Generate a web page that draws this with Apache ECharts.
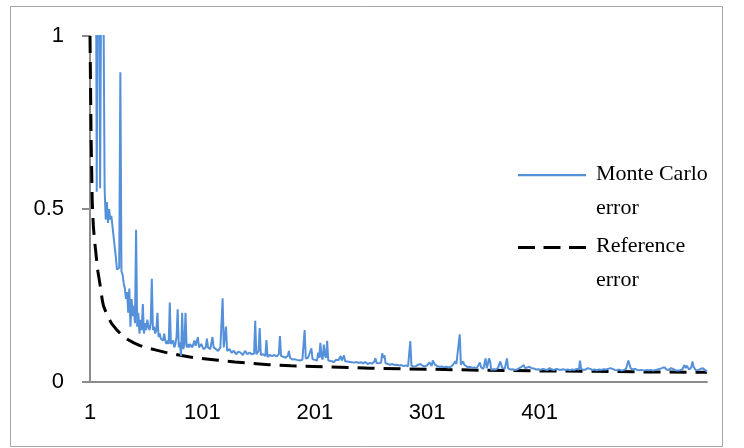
<!DOCTYPE html>
<html>
<head>
<meta charset="utf-8">
<script src="https://cdn.jsdelivr.net/npm/echarts@6/dist/echarts.min.js"></script>
<style>
html,body{margin:0;padding:0;background:#fff;}
#chart{width:744px;height:448px;}
</style>
</head>
<body>
<div id="chart"></div>
<script>
// Sample index (x) tick labels
const xTickLabels = [1, 101, 201, 301, 401];
const seriesNames = ['Monte Carlo error', 'Reference error'];
const legendLabels = ['Monte Carlo\nerror', 'Reference\nerror'];

// Monte Carlo error: [sample index, error]
const monteCarloError = [
[1,1.6],[2,2.1],[3,1.5],[4,1.9],[5,1.3],[6,1.6],[7,0.55],[8,1.4],[9,1.25],[10,0.56],[11,1.2],[12,1.5],[13,1.1],[14,0.56],[15,0.47],[16,0.52],[17,0.46],[18,0.5],[19,0.47],[20,0.48],
[21,0.45],[22,0.42],[23,0.39],[24,0.36],[25,0.325],[26,0.32],[27,0.33],[28,0.895],[29,0.32],[30,0.31],[31,0.285],[32,0.27],[33,0.24],[34,0.26],[35,0.2],[36,0.27],[37,0.16],[38,0.24],[39,0.19],[40,0.22],
[41,0.17],[42,0.44],[43,0.16],[44,0.2],[45,0.14],[46,0.18],[47,0.15],[48,0.225],[49,0.14],[50,0.17],[51,0.15],[52,0.18],[53,0.16],[54,0.15],[55,0.17],[56,0.298],[57,0.15],[58,0.16],[59,0.14],[60,0.15],
[61,0.2],[62,0.13],[63,0.14],[64,0.125],[65,0.13],[66,0.12],[67,0.14],[68,0.12],[69,0.11],[70,0.12],[71,0.11],[72,0.23],[73,0.11],[74,0.105],[75,0.12],[76,0.1],[77,0.11],[78,0.13],[79,0.21],[80,0.1],
[81,0.115],[82,0.075],[83,0.2],[84,0.095],[85,0.11],[86,0.2],[87,0.1],[88,0.11],[89,0.1],[90,0.11],[92,0.1],[94,0.12],[95,0.105],[97,0.13],[98,0.1],[100,0.11],[102,0.095],[104,0.1],[105,0.125],[106,0.1],
[108,0.095],[110,0.13],[111,0.1],[113,0.095],[115,0.09],[117,0.1],[119,0.242],[120,0.1],[122,0.16],[123,0.09],[125,0.095],[127,0.085],[129,0.09],[131,0.08],[133,0.088],[135,0.085],[137,0.078],[139,0.09],[141,0.08],[143,0.085],
[145,0.08],[147,0.082],[148,0.177],[149,0.08],[151,0.09],[152,0.156],[153,0.078],[155,0.08],[157,0.075],[158,0.121],[159,0.072],[161,0.078],[163,0.075],[165,0.078],[167,0.074],[169,0.08],[170,0.133],[171,0.075],[173,0.073],[175,0.07],
[177,0.076],[178,0.09],[179,0.07],[181,0.065],[183,0.066],[185,0.064],[186,0.068],[188,0.062],[190,0.065],[191,0.068],[192,0.15],[193,0.068],[195,0.07],[196,0.065],[198,0.097],[199,0.066],[201,0.064],[203,0.062],[204,0.085],[205,0.07],
[206,0.113],[207,0.073],[208,0.065],[209,0.108],[210,0.078],[211,0.07],[212,0.119],[213,0.062],[214,0.058],[216,0.06],[218,0.058],[220,0.064],[222,0.063],[224,0.075],[225,0.062],[227,0.077],[228,0.06],[230,0.059],[232,0.058],[234,0.057],
[236,0.056],[238,0.058],[240,0.055],[242,0.057],[244,0.054],[246,0.058],[248,0.052],[250,0.055],[252,0.053],[254,0.059],[255,0.069],[256,0.055],[258,0.054],[260,0.056],[261,0.083],[262,0.07],[263,0.078],[264,0.054],[266,0.052],[268,0.05],
[270,0.052],[272,0.049],[274,0.05],[276,0.048],[278,0.049],[280,0.046],[282,0.048],[284,0.045],[286,0.118],[287,0.048],[289,0.044],[291,0.046],[293,0.05],[295,0.052],[297,0.047],[299,0.045],[301,0.048],[303,0.057],[305,0.046],[306,0.062],
[307,0.058],[308,0.05],[310,0.046],[312,0.044],[314,0.045],[316,0.043],[318,0.044],[320,0.042],[322,0.044],[324,0.05],[326,0.06],[327,0.052],[328,0.048],[330,0.138],[331,0.05],[332,0.046],[333,0.06],[334,0.05],[335,0.045],[337,0.043],
[339,0.044],[341,0.041],[343,0.042],[345,0.04],[346,0.036],[348,0.056],[349,0.042],[351,0.038],[353,0.068],[354,0.04],[355,0.052],[356,0.068],[357,0.06],[358,0.035],[360,0.037],[362,0.036],[364,0.04],[366,0.059],[368,0.04],[370,0.038],
[372,0.068],[373,0.04],[375,0.036],[377,0.037],[379,0.035],[381,0.036],[383,0.04],[385,0.044],[387,0.049],[388,0.04],[390,0.042],[392,0.044],[394,0.04],[396,0.039],[398,0.036],[400,0.037],[402,0.035],[404,0.038],[406,0.036],[408,0.035],
[410,0.04],[412,0.036],[414,0.035],[416,0.038],[418,0.036],[420,0.035],[422,0.037],[424,0.035],[426,0.036],[428,0.034],[430,0.036],[432,0.035],[434,0.038],[436,0.036],[437,0.062],[438,0.038],[440,0.035],[442,0.036],[444,0.04],[446,0.038],
[448,0.035],[450,0.036],[452,0.034],[454,0.036],[456,0.035],[458,0.037],[460,0.036],[462,0.038],[464,0.04],[466,0.038],[468,0.035],[470,0.034],[472,0.036],[474,0.033],[476,0.035],[478,0.038],[480,0.062],[482,0.04],[484,0.036],[486,0.038],
[488,0.035],[490,0.034],[492,0.035],[494,0.033],[496,0.035],[498,0.034],[500,0.035],[502,0.033],[504,0.035],[506,0.036],[508,0.038],[510,0.04],[512,0.043],[514,0.036],[516,0.035],[518,0.04],[520,0.037],[522,0.034],[524,0.033],[526,0.034],
[528,0.036],[530,0.049],[531,0.04],[532,0.047],[534,0.036],[536,0.042],[537,0.059],[538,0.045],[540,0.034],[542,0.035],[544,0.037],[546,0.04],[547,0.044],[548,0.035],[549,0.037],[550,0.03]
];

// Reference error: [sample index, error]
const referenceError = [
[1,1.0],[2,0.7],[3,0.52],[4,0.45],[5,0.41],[6,0.38],[7,0.35],[8,0.32],[10,0.28],[12,0.235],[13,0.22],[16,0.195],[20,0.17],[25,0.15],[30,0.133],[35,0.122],[40,0.113],[45,0.106],[50,0.1],[60,0.092],
[70,0.084],[80,0.078],[90,0.072],[100,0.068],[115,0.063],[130,0.058],[160,0.05],[180,0.047],[200,0.045],[250,0.04],[300,0.037],[350,0.034],[400,0.032],[450,0.031],[500,0.029],[550,0.028]
];

const chart = echarts.init(document.getElementById('chart'), null, {renderer: 'canvas'});
const axisColor = '#8c8c8c';
const blue = '#5590DA';
// legend glyphs: line drawn along the top of a 68x34 box so it sits level with the first text line
const solidIcon = 'path://M0,0H68V2.2H0Z M34,34L34.01,34L34.01,33.99Z';
const dashIcon = 'path://M0,0H17V3H0Z M25.5,0H42.5V3H25.5Z M51,0H68V3H51Z M34,34L34.01,34L34.01,33.99Z';
const legendText = {
  fontFamily: 'Liberation Serif', fontSize: 22, color: '#000', lineHeight: 34, padding: [0, 0, 0, 5]
};
chart.setOption({
  animation: false,
  backgroundColor: '#fff',
  grid: {left: 90, right: 37, top: 36, bottom: 66, containLabel: false},
  graphic: [{
    type: 'rect', silent: true, z: -10,
    shape: {x: 10.5, y: 6.5, width: 712, height: 440},
    style: {fill: 'none', stroke: '#a6a6a6', lineWidth: 1}
  }],
  legend: [{
    data: [{name: seriesNames[0], icon: solidIcon}], orient: 'vertical', left: 518, top: 157, padding: 0,
    itemWidth: 68, itemHeight: 34, itemStyle: {borderWidth: 0},
    formatter: function () { return legendLabels[0]; },
    textStyle: legendText
  }, {
    data: [{name: seriesNames[1], icon: dashIcon}], orient: 'vertical', left: 518, top: 229, padding: 0,
    itemWidth: 68, itemHeight: 34, itemStyle: {borderWidth: 0},
    formatter: function () { return legendLabels[1]; },
    textStyle: legendText
  }],
  xAxis: {
    type: 'value', min: 1, max: 550,
    axisLine: {show: true, lineStyle: {color: axisColor, width: 2}},
    axisTick: {show: false},
    splitLine: {show: false},
    axisLabel: {
      customValues: xTickLabels, margin: 20,
      fontFamily: 'Liberation Sans', fontSize: 22, color: '#000'
    }
  },
  yAxis: {
    type: 'value', min: 0, max: 1, interval: 0.5,
    axisLine: {show: true, lineStyle: {color: axisColor, width: 2}},
    axisTick: {show: true, length: 8, lineStyle: {color: axisColor, width: 2}},
    splitLine: {show: false},
    axisLabel: {
      margin: 26, fontFamily: 'Liberation Sans', fontSize: 22, color: '#000',
      formatter: function (v) { return String(v); }
    }
  },
  series: [{
    name: seriesNames[0], type: 'line', data: monteCarloError,
    showSymbol: false, symbol: 'none', clip: true, z: 3,
    lineStyle: {color: blue, width: 2}, itemStyle: {color: blue}
  }, {
    name: seriesNames[1], type: 'line', data: referenceError,
    showSymbol: false, symbol: 'none', clip: true, z: 2,
    lineStyle: {color: '#000', width: 3, type: [17, 9]}, itemStyle: {color: '#000'}
  }]
});
</script>
</body>
</html>
